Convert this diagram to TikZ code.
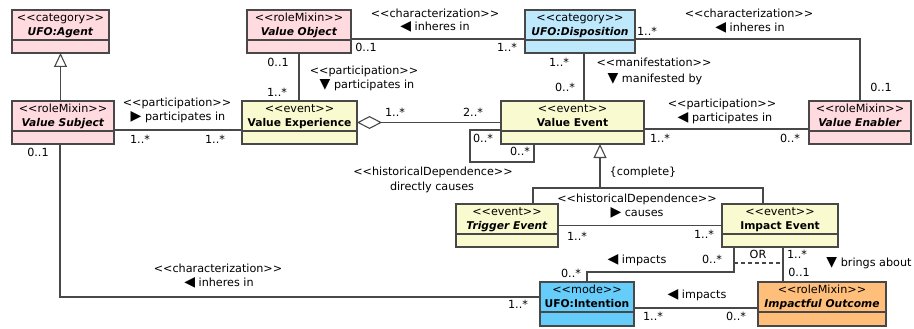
\documentclass[tikz,border=0pt]{standalone}
\usepackage{fontspec}
\setmainfont{DejaVu Sans}
\usetikzlibrary{arrows.meta}
\definecolor{pinkf}{RGB}{255,218,222}
\definecolor{yellf}{RGB}{250,250,208}
\definecolor{lblue}{RGB}{190,232,252}
\definecolor{dblue}{RGB}{102,204,250}
\definecolor{orng}{RGB}{255,190,122}
\definecolor{edgec}{RGB}{72,72,72}
\newcommand{\umlfont}{\fontsize{11.2}{13}\selectfont}
\newcommand{\namefont}{\fontsize{10.7}{13}\selectfont}
\newcommand{\stL}{<\kern0pt<}
\newcommand{\stR}{>\kern0pt>}
\newcommand{\bi}[1]{\textbf{\textit{#1}}}
\newcommand{\tri}[1]{{\fontsize{14}{13}\selectfont #1}}
\newcommand{\umlcls}[8]{%
  \node[clsbox, fill=#6, minimum width={#4pt-#2pt}, minimum height={#5pt-#3pt}, anchor=north west] (#1) at (#2,#3) {};
  \draw[draw=edgec, line width=1.1pt] ([yshift=-30pt]#1.north west) -- ([yshift=-30pt]#1.north east);
  \node[lbl] (#1-st) at ([yshift=-8pt]#1.north) {\stL#7\stR};
  \node[lbl] (#1-nm) at ([yshift=-22.5pt]#1.north) {\namefont #8};
}
\begin{document}
\begin{tikzpicture}[x=1pt,y=-1pt,
  clsbox/.style={draw=edgec, line width=1.1pt, inner sep=0pt, outer sep=0pt},
  lbl/.style={inner sep=0pt, font=\umlfont, text height=8.5pt, text depth=2.3pt},
  conn/.style={draw=edgec, line width=1.1pt},
  gen/.style={conn, -{Triangle[open, length=14pt, width=13pt]}},
  agg/.style={conn, {Diamond[open, length=25pt, width=13pt]}-},
]
\useasboundingbox (0,0) rectangle (914,329);

% classes
\umlcls{agent}{12}{10}{109}{53}{pinkf}{category}{\bi{UFO:Agent}}
\umlcls{vsub}{12}{101}{114}{144}{pinkf}{roleMixin}{\bi{Value Subject}}
\umlcls{vobj}{247}{10}{351}{53}{pinkf}{roleMixin}{\bi{Value Object}}
\umlcls{vexp}{242}{101}{357}{144}{yellf}{event}{\textbf{Value Experience}}
\umlcls{disp}{525}{10}{635}{53}{lblue}{category}{\bi{UFO:Disposition}}
\umlcls{vevt}{501}{101}{644}{144}{yellf}{event}{\textbf{Value Event}}
\umlcls{venab}{809}{101}{911}{144}{pinkf}{roleMixin}{\bi{Value Enabler}}
\umlcls{trig}{456}{204}{558}{247}{yellf}{event}{\bi{Trigger Event}}
\umlcls{imp}{722}{204}{838}{247}{yellf}{event}{\textbf{Impact Event}}
\umlcls{intent}{540}{282}{634}{326}{dblue}{mode}{\textbf{UFO:Intention}}
\umlcls{outc}{758}{282}{886}{326}{orng}{roleMixin}{\bi{Impactful Outcome}}

% connectors
\draw[gen] (vsub.north -| agent.south) -- (agent.south);
\draw[conn] ([yshift=-7.5pt]vsub.east) -- ([yshift=-7.5pt]vexp.west);
\draw[conn] (vobj.south) -- (vobj.south |- vexp.north);
\draw[conn] ([yshift=-7.5pt]vobj.east) -- ([yshift=-7.5pt]disp.west);
\draw[conn] ([yshift=-7.5pt]disp.east) -| (venab.north);
\coordinate (dv) at ([xshift=4pt]disp.south);
\draw[conn] (dv) -- (dv |- vevt.north);
\draw[agg] (vexp.east) -- (vevt.west);
\draw[conn] ([yshift=-6.5pt]vevt.east) -- ([yshift=-6.5pt]venab.west);
\draw[conn] ([yshift=-7.5pt]vevt.west) -- ++(-31,0) -- ++(0,32) -| ([xshift=-38.5pt]vevt.south);

\coordinate (tg) at ([xshift=26pt]trig.north);
\coordinate (ig) at ([xshift=-17pt]imp.north);
\coordinate (vg) at ([xshift=27.5pt]vevt.south);
\path (tg) ++(0,-16) coordinate (tj);
\draw[conn] (tg) -- (tj) -| (ig);
\draw[gen] (tj -| vg) -- (vg);

\draw[conn] (trig.east) -- (imp.west);
\coordinate (ia) at ([xshift=-46pt]imp.south);
\path (intent.north) ++(0,-10) coordinate (ij);
\draw[conn] (ia) |- (ij) -- (intent.north);
\coordinate (ib) at ([xshift=3pt]imp.south);
\draw[conn] (ib) -- (ib |- outc.north);
\draw[conn, dash pattern=on 4pt off 3pt] ([yshift=-16pt]ia) -- ([yshift=-16pt]ib);
\draw[conn] ([yshift=-4pt]intent.east) -- ([yshift=-4pt]outc.west);
\draw[conn] ([xshift=-3pt]vsub.south) |- ([yshift=7pt]intent.west);

% labels
\node[lbl] (l1) at (177,103) {\stL participation\stR};
\node[lbl] (l2) at (178,117) {\tri{▶} participates in};
\node[lbl] (l3) at (140,140) {1..*};
\node[lbl] (l4) at (215,140) {1..*};
\node[lbl] (l5) at (38,153) {0..1};
\node[lbl] (l6) at (366,48) {0..1};
\node[lbl] (l7) at (278,63) {0..1};
\node[lbl] (l8) at (277,93) {1..*};
\node[lbl] (l9) at (364,71) {\stL participation\stR};
\node[lbl] (l10) at (367,85) {\tri{▼} participates in};
\node[lbl] (l11) at (435,14) {\stL characterization\stR};
\node[lbl] (l12) at (435,27) {\tri{◀} inheres in};
\node[lbl] (l13) at (507,48) {1..*};
\node[lbl] (l14) at (647,32) {1..*};
\node[lbl] (l15) at (559,63) {1..*};
\node[lbl] (l16) at (565,88) {0..*};
\node[lbl] (l17) at (654,63) {\stL manifestation\stR};
\node[lbl] (l18) at (655,79) {\tri{▼} manifested by};
\node[lbl] (l19) at (749,14) {\stL characterization\stR};
\node[lbl] (l20) at (750,28) {\tri{◀} inheres in};
\node[lbl] (l21) at (881,88) {0..1};
\node[lbl] (l22) at (395,113) {1..*};
\node[lbl] (l23) at (473,113) {2..*};
\node[lbl] (l24) at (722,104) {\stL participation\stR};
\node[lbl] (l25) at (725,118) {\tri{◀} participates in};
\node[lbl] (l26) at (660,139) {1..*};
\node[lbl] (l27) at (790,139) {0..*};
\node[lbl] (l28) at (483,139) {0..*};
\node[lbl] (l29) at (520,152) {0..*};
\node[lbl] (l30) at (433,172) {\stL historicalDependence\stR};
\node[lbl] (l31) at (432,187) {directly causes};
\node[lbl] (l32) at (643,172) {\{complete\}};
\node[lbl] (l33) at (637,199) {\stL historicalDependence\stR};
\node[lbl] (l34) at (637,213) {\tri{▶} causes};
\node[lbl] (l35) at (577,237) {1..*};
\node[lbl] (l36) at (704,235) {1..*};
\node[lbl] (l37) at (637,260) {\tri{◀} impacts};
\node[lbl] (l38) at (712,260) {0..*};
\node[lbl] (l39) at (571,274) {0..*};
\node[lbl] (l40) at (758,255) {OR};
\node[lbl] (l41) at (797,255) {1..*};
\node[lbl] (l42) at (799,273) {0..1};
\node[lbl] (l43) at (869,263) {\tri{▼} brings about};
\node[lbl] (l44) at (697,295) {\tri{◀} impacts};
\node[lbl] (l45) at (653,317) {1..*};
\node[lbl] (l46) at (736,317) {0..*};
\node[lbl] (l47) at (218,269) {\stL characterization\stR};
\node[lbl] (l48) at (219,283) {\tri{◀} inheres in};
\node[lbl] (l49) at (518,305) {1..*};
\end{tikzpicture}
\end{document}
